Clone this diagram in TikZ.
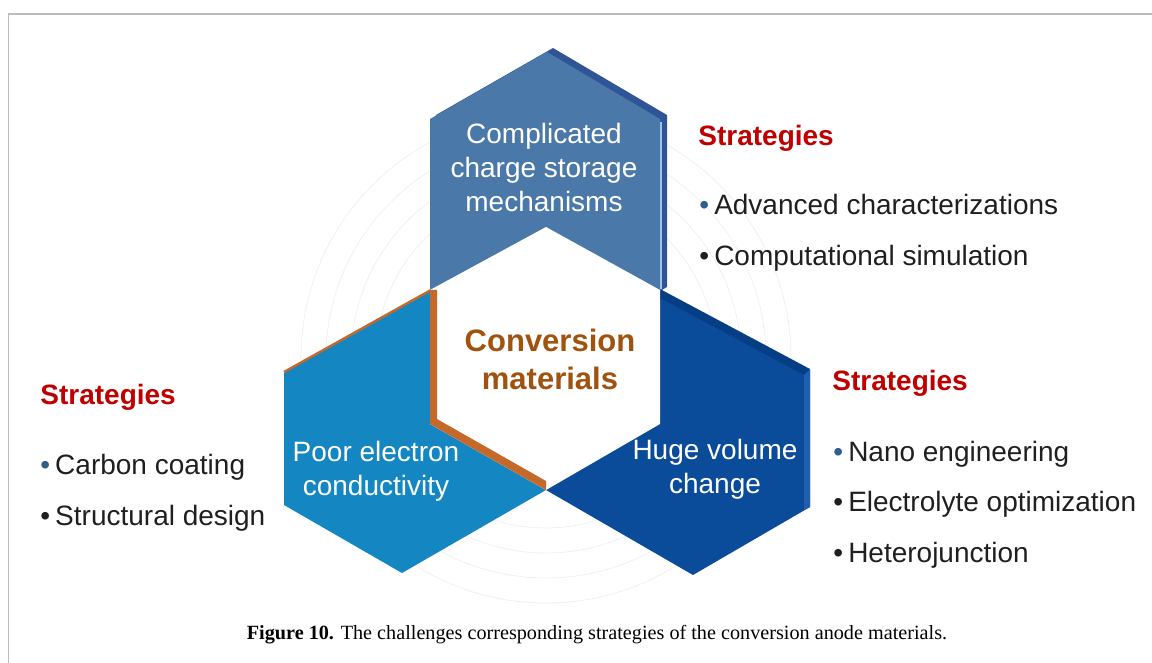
\documentclass[tikz,border=0pt]{standalone}
\usepackage{fontspec}
\setmainfont{Liberation Sans}
\newfontfamily\capfont{Liberation Serif}
\definecolor{topface}{HTML}{4A79A9}
\definecolor{topside}{HTML}{2F5597}
\definecolor{topline}{HTML}{9DC3E6}
\definecolor{leftface}{HTML}{1486C1}
\definecolor{rightface}{HTML}{0B4C9A}
\definecolor{rightside}{HTML}{1F5FAE}
\definecolor{rightedge}{HTML}{063E86}
\definecolor{rimorange}{HTML}{C5682A}
\definecolor{convtext}{HTML}{A0520F}
\definecolor{stratred}{HTML}{C00000}
\definecolor{itemtext}{HTML}{1F1F1F}
\definecolor{dotblue}{HTML}{2E5D8E}
\definecolor{framegray}{HTML}{BDBDBD}
\tikzset{
  hexlabel/.style={text=white, align=center, inner sep=0pt, font=\fontsize{14}{17}\selectfont},
  strathead/.style={text=stratred, anchor=base west, inner sep=0pt, font=\fontsize{14}{17}\selectfont\bfseries},
  stratitem/.style={text=itemtext, anchor=base west, inner sep=0pt, font=\fontsize{14}{17}\selectfont},
}
\newcommand{\bdot}[1][itemtext]{{\color{#1}\textbullet}\hspace{0.18em}}

\begin{document}
\begin{tikzpicture}[x=0.5pt, y=-0.5pt]
	%%%%% FRAME %%%%%
	\useasboundingbox (0, 0) rectangle (1152, 663);
	\draw[line width=0.75pt, color=framegray] (8.5, 663) -- (8.5, 14) -- (1152, 14);
	
	%%%%% RINGS %%%%%
	\foreach \r in {170, 195, 220, 245}
		\draw[line width=0.4pt, color=black!6] (546, 358) circle (\r);
	
	%%%%% LEFT HEX %%%%%
	\fill[leftface] (431, 290) -- (284, 372) -- (284, 505) -- (402, 573) -- (546, 490) -- (546, 358) -- cycle;
	\draw[line width=1.2pt, color=rimorange] (284, 372) -- (431, 290);
	
	%%%%% RIGHT HEX %%%%%
	\fill[rightface] (660, 290) -- (810, 370) -- (810, 507) -- (693, 575) -- (546, 490) -- (546, 358) -- cycle;
	\fill[rightedge] (660, 289) -- (810, 369) -- (804, 375) -- (660, 298) -- cycle;
	\fill[rightside] (804, 375) -- (810, 369) -- (810, 507) -- (804, 510) -- cycle;
	
	%%%%% TOP HEX %%%%%
	\fill[topside] (553, 48) -- (667, 115) -- (667, 287) -- (552, 354) -- (436, 286) -- (436, 115) -- cycle;
	\fill[topface] (547, 52) -- (660, 119) -- (660, 290) -- (546, 358) -- (430, 290) -- (430, 119) -- cycle;
	\draw[line width=0.8pt, color=topline] (661, 122) -- (661, 289);
	
	%%%%% CENTER HEX %%%%%
	\fill[white] (546, 227) -- (660, 290) -- (660, 424) -- (546, 490) -- (430, 424) -- (430, 290) -- cycle;
	\fill[rimorange] (430, 290) -- (430, 424) -- (546, 490) -- (546, 481) -- (437, 419) -- (437, 290) -- cycle;
	
	%%%%% LABELS %%%%%
	\node[hexlabel] (mech) at (544, 167) {Complicated\\charge storage\\mechanisms};
	\node[hexlabel] (poor) at (376, 471) {Poor electron\\conductivity};
	\node[hexlabel] (huge) at (715, 469) {Huge volume\\change};
	\node[align=center, inner sep=0pt, text=convtext, font=\fontsize{15.5}{19}\selectfont\bfseries] (conv) at (550, 359) {Conversion\\materials};
	
	%%%%% STRATEGIES %%%%%
	\node[strathead] (stratT) at (698, 146) {Strategies};
	\node[stratitem] (advc) at (699, 215) {\bdot[dotblue]Advanced characterizations};
	\node[stratitem] (comp) at (699, 266) {\bdot Computational simulation};
	
	\node[strathead] (stratL) at (40, 405) {Strategies};
	\node[stratitem] (carb) at (40, 474) {\bdot[dotblue]Carbon coating};
	\node[stratitem] (strc) at (40, 525) {\bdot Structural design};
	
	\node[strathead] (stratR) at (832, 391) {Strategies};
	\node[stratitem] (nano) at (833, 461) {\bdot[dotblue]Nano engineering};
	\node[stratitem] (elec) at (833, 511) {\bdot Electrolyte optimization};
	\node[stratitem] (hetj) at (833, 562) {\bdot Heterojunction};
	
	%%%%% CAPTION %%%%%
	\node[inner sep=0pt, font=\capfont\fontsize{10.1}{12}\selectfont] (cap) at (597, 635) {\textbf{Figure 10.} The challenges corresponding strategies of the conversion anode materials.};
\end{tikzpicture}
\end{document}
